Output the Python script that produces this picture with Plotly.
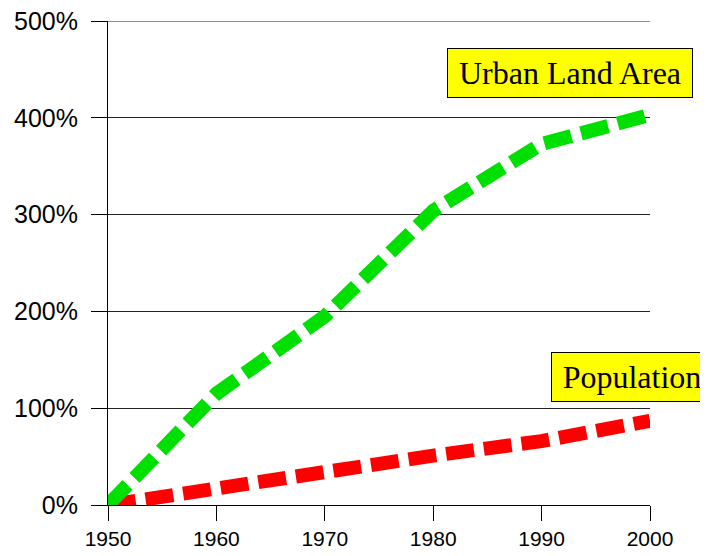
import plotly.graph_objects as go

years = [1950, 1960, 1970, 1980, 1990, 2000]
urban_land_area = [0, 115, 195, 304, 373, 403]
population = [0, 18, 36, 51, 66, 87]
y_ticks = [0, 100, 200, 300, 400, 500]
y_tick_labels = ["0%", "100%", "200%", "300%", "400%", "500%"]
x_ticks = [1950, 1960, 1970, 1980, 1990, 2000]

fig = go.Figure()
fig.add_trace(go.Scatter(x=years, y=population, mode="lines",
                         line=dict(color="#ff0000", width=14, dash="28px,10px"),
                         name="Population"))
fig.add_trace(go.Scatter(x=years, y=urban_land_area, mode="lines",
                         line=dict(color="#00e000", width=14, dash="28px,10px"),
                         name="Urban Land Area"))

fig.add_annotation(x=1992.6, y=446, xref="x", yref="y", text="Urban Land Area",
                   showarrow=False, bgcolor="#ffff00", bordercolor="#000000",
                   borderwidth=1, borderpad=0, width=244, height=48,
                   font=dict(family="Liberation Serif", size=32, color="#000000"))
fig.add_annotation(x=1998.34, y=132, xref="x", yref="y", text="Population",
                   showarrow=False, bgcolor="#ffff00", bordercolor="#000000",
                   borderwidth=1, borderpad=0, width=160, height=48,
                   font=dict(family="Liberation Serif", size=32, color="#000000"))

# top gridline at 500%
fig.add_shape(type="line", xref="paper", yref="y", x0=0, x1=1,
              y0=y_ticks[-1], y1=y_ticks[-1], line=dict(color="#222222", width=1),
              layer="below")

fig.update_layout(
    width=708, height=556,
    margin=dict(l=100, r=66, t=13, b=59),
    paper_bgcolor="white", plot_bgcolor="white",
    showlegend=False,
    font=dict(family="Liberation Sans", color="#000000"),
    xaxis=dict(range=[1950, 2000], tickvals=x_ticks, ticks="outside", ticklen=15,
               tickcolor="#000000", showline=True, linecolor="#000000", linewidth=1,
               showgrid=False, zeroline=False, tickfont=dict(size=21),
               automargin=False, ticklabeloverflow="allow"),
    yaxis=dict(range=[0, 500], tickvals=y_ticks, ticktext=y_tick_labels,
               ticks="outside", ticklen=16, tickcolor="#000000",
               showline=True, linecolor="#000000", linewidth=1,
               showgrid=True, gridcolor="#222222", gridwidth=1, zeroline=False,
               tickfont=dict(size=25), ticklabelstandoff=8, automargin=False,
               ticklabeloverflow="allow"),
)
fig.write_html("out.html")
